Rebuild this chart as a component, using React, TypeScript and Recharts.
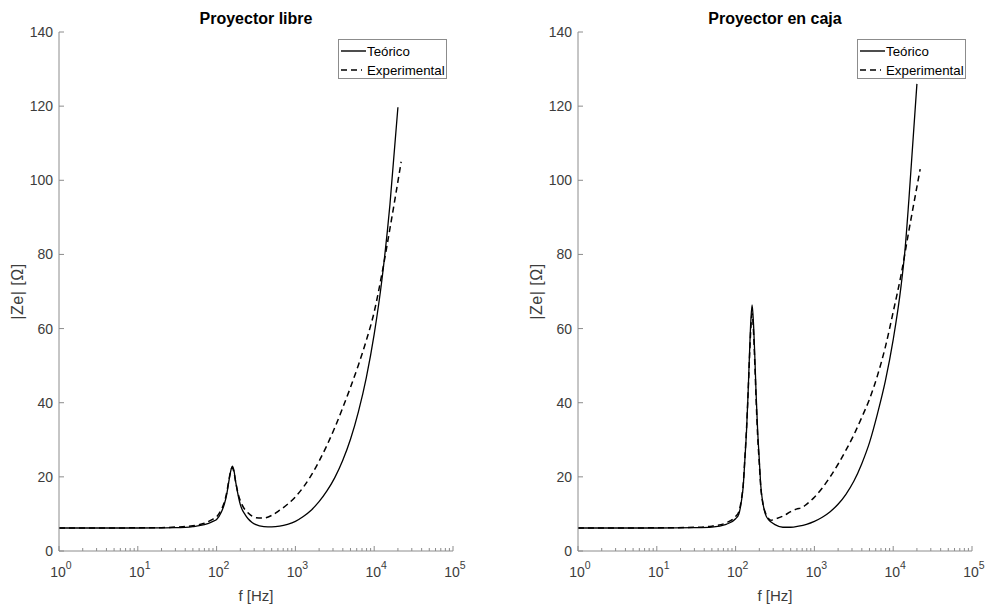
import React from 'react';
import { LineChart, Line, XAxis, YAxis, Legend, Label } from 'recharts';

const FONT = '"Liberation Sans", Arial, Helvetica, sans-serif';
const AXIS_COLOR = '#8c8c8c';
const TEXT_COLOR = '#3c3c3c';

// axis ticks
const majorTicks = [1, 10, 100, 1000, 10000, 100000];
const minorTicks = [
  2, 3, 4, 5, 6, 7, 8, 9,
  20, 30, 40, 50, 60, 70, 80, 90,
  200, 300, 400, 500, 600, 700, 800, 900,
  2000, 3000, 4000, 5000, 6000, 7000, 8000, 9000,
  20000, 30000, 40000, 50000, 60000, 70000, 80000, 90000,
];
const xTicks = [...majorTicks, ...minorTicks].sort((a, b) => a - b);
const yTicks = [0, 20, 40, 60, 80, 100, 120, 140];

// Proyector libre - teórico
const libreTeoF = [1, 3, 10, 20, 30, 50, 70, 90, 100, 115, 126, 135, 145, 152, 158, 165, 175, 190, 200, 230, 251, 282, 316, 398, 501, 631, 794, 1000, 1259, 1585, 1995, 2512, 3162, 3981, 5012, 6310, 7943, 10000, 12589, 15849, 20000];
const libreTeoZ = [6.2, 6.2, 6.2, 6.25, 6.3, 6.6, 7.1, 8.0, 8.5, 10.5, 12.8, 15.5, 19.5, 21.8, 22.9, 22.0, 18.5, 14.5, 12.5, 9.8, 8.7, 7.7, 7.1, 6.6, 6.5, 6.7, 7.2, 8.0, 9.3, 11.0, 13.3, 16.2, 19.8, 24.4, 30.2, 37.6, 46.8, 58.5, 73.5, 93.5, 119.7];

// Proyector libre - experimental
const libreExpF = [1, 10, 20, 30, 50, 70, 90, 100, 115, 126, 135, 145, 152, 158, 165, 175, 190, 210, 250, 282, 316, 398, 501, 631, 794, 1000, 1259, 1585, 1995, 2512, 3162, 3981, 5012, 6310, 7943, 10000, 12589, 15849, 22000];
const libreExpZ = [6.2, 6.25, 6.3, 6.45, 6.8, 7.5, 8.6, 9.2, 11.2, 13.3, 16.0, 19.8, 21.8, 22.5, 21.5, 18.5, 15.0, 12.5, 10.3, 9.4, 9.0, 8.9, 9.6, 11.0, 12.6, 14.6, 17.2, 20.4, 24.2, 28.5, 33.3, 38.6, 44.2, 50.2, 56.8, 64.5, 75.0, 87.0, 105.0];

// Proyector en caja - teórico
const cajaTeoF = [1, 10, 30, 50, 76, 100, 110, 119, 125, 131, 138, 144, 150, 156, 162, 168, 175, 182, 190, 200, 209, 219, 240, 263, 282, 316, 398, 501, 631, 794, 1000, 1259, 1585, 1995, 2512, 3162, 3981, 5012, 6310, 7943, 10000, 12589, 14125, 15849, 20000];
const cajaTeoZ = [6.2, 6.2, 6.3, 6.45, 7.2, 8.7, 10.0, 13.7, 17.5, 24.5, 33.0, 42.5, 53.0, 62.0, 66.4, 62.0, 53.0, 42.5, 33.0, 24.5, 17.5, 13.7, 9.8, 8.4, 7.8, 7.1, 6.4, 6.4, 6.7, 7.2, 8.0, 9.1, 10.6, 12.6, 15.3, 18.8, 23.5, 29.3, 37.0, 45.8, 57.0, 71.5, 81.3, 95.0, 126.0];

// Proyector en caja - experimental
const cajaExpF = [1, 10, 30, 50, 76, 100, 110, 119, 125, 131, 138, 144, 150, 156, 162, 168, 175, 182, 190, 200, 209, 219, 240, 263, 282, 316, 398, 501, 589, 708, 794, 1000, 1259, 1585, 1995, 2512, 3162, 3981, 5012, 6310, 7943, 10000, 12589, 15849, 22000];
const cajaExpZ = [6.2, 6.25, 6.4, 6.7, 7.6, 9.3, 10.6, 14.2, 18.0, 25.0, 33.5, 42.5, 52.0, 60.0, 64.0, 60.0, 51.0, 41.0, 31.5, 23.5, 17.0, 13.5, 10.2, 8.7, 8.3, 8.6, 9.4, 10.6, 11.3, 11.8, 12.6, 14.5, 17.0, 20.0, 23.4, 27.2, 31.3, 36.0, 41.0, 47.3, 55.0, 64.5, 74.5, 86.5, 103.0];

const toPoints = (f: number[], z: number[]) => f.map((v, i) => ({ f: v, z: z[i] }));

const CH = 608;
const PLOT_TOP = 32;
const PLOT_BOTTOM = 551;

function isMajor(v: number) {
  const e = Math.round(Math.log10(v));
  return Math.abs(Math.pow(10, e) - v) < 1e-6;
}

function BottomTick(props: any) {
  const { x, y, payload } = props;
  const v = payload.value;
  const major = isMajor(v);
  return (
    <g>
      <line x1={x} x2={x} y1={y} y2={y - (major ? 5 : 3)} stroke={AXIS_COLOR} />
      {major && (
        <text x={x + 2} y={y + 26} textAnchor="middle" fontSize={14} fill={TEXT_COLOR} fontFamily={FONT}>
          10<tspan dy={-8} fontSize={10.5}>{Math.round(Math.log10(v))}</tspan>
        </text>
      )}
    </g>
  );
}

function TopTick(props: any) {
  const { x, y, payload } = props;
  const major = isMajor(payload.value);
  return <line x1={x} x2={x} y1={y} y2={y + (major ? 5 : 3)} stroke={AXIS_COLOR} />;
}

function LeftTick(props: any) {
  const { x, y, payload } = props;
  return (
    <g>
      <line x1={x} x2={x + 5} y1={y} y2={y} stroke={AXIS_COLOR} />
      <text x={x - 6} y={y} dy={5} textAnchor="end" fontSize={14} fill={TEXT_COLOR} fontFamily={FONT}>
        {payload.value}
      </text>
    </g>
  );
}

function RightTick(props: any) {
  const { x, y } = props;
  return <line x1={x} x2={x - 5} y1={y} y2={y} stroke={AXIS_COLOR} />;
}

function LegendBox() {
  return (
    <div style={{ width: 109, height: 40, boxSizing: 'border-box', border: `1px solid ${AXIS_COLOR}`, background: '#fff' }}>
      <svg width={107} height={38} style={{ display: 'block' }}>
        <line x1={2} x2={27} y1={11} y2={11} stroke="#000" strokeWidth={1.4} />
        <text x={28} y={15.5} fontSize={13.3} fontFamily={FONT} fill="#000">Teórico</text>
        <line x1={2} x2={23} y1={30} y2={30} stroke="#000" strokeWidth={1.4} strokeDasharray="6 4" />
        <text x={28} y={34.5} fontSize={13.3} fontFamily={FONT} fill="#000">Experimental</text>
      </svg>
    </div>
  );
}

function Panel({ title, teo, exp, width, plotLeft, marginRight }: any) {
  const plotRight = width - marginRight;
  const cx = (plotLeft + plotRight) / 2;
  const ylx = plotLeft - 41.5;
  const yly = (PLOT_TOP + PLOT_BOTTOM) / 2;
  return (
    <LineChart width={width} height={CH} margin={{ top: PLOT_TOP, right: marginRight, bottom: 0, left: 0 }}>
      <XAxis
        xAxisId="b"
        type="number"
        dataKey="f"
        scale="log"
        domain={[1, 100000]}
        allowDataOverflow
        ticks={xTicks}
        interval={0}
        tickSize={0}
        tickMargin={0}
        tickLine={false}
        height={CH - PLOT_BOTTOM}
        axisLine={{ stroke: AXIS_COLOR }}
        tick={(p: any) => <BottomTick {...p} />}
      >
        <Label
          content={() => (
            <g>
              <text x={cx} y={601} textAnchor="middle" fontSize={15} fontFamily={FONT} fill={TEXT_COLOR}>
                f [Hz]
              </text>
              <text x={cx} y={24} textAnchor="middle" fontSize={16} fontWeight="bold" fontFamily={FONT} fill="#000">
                {title}
              </text>
            </g>
          )}
        />
      </XAxis>
      <XAxis
        xAxisId="t"
        orientation="top"
        type="number"
        dataKey="f"
        scale="log"
        domain={[1, 100000]}
        allowDataOverflow
        ticks={xTicks}
        interval={0}
        tickSize={0}
        tickMargin={0}
        tickLine={false}
        height={0}
        axisLine={{ stroke: AXIS_COLOR }}
        tick={(p: any) => <TopTick {...p} />}
      />
      <YAxis
        yAxisId="l"
        type="number"
        domain={[0, 140]}
        allowDataOverflow
        ticks={yTicks}
        interval={0}
        tickSize={0}
        tickMargin={0}
        tickLine={false}
        width={plotLeft}
        axisLine={{ stroke: AXIS_COLOR }}
        tick={(p: any) => <LeftTick {...p} />}
      >
        <Label
          content={() => (
            <text
              x={ylx}
              y={yly}
              transform={`rotate(-90, ${ylx}, ${yly})`}
              textAnchor="middle"
              dominantBaseline="central"
              fontSize={16}
              letterSpacing={0.5}
              fontFamily={FONT}
              fill={TEXT_COLOR}
            >
              |Ze| [Ω]
            </text>
          )}
        />
      </YAxis>
      <YAxis
        yAxisId="r"
        orientation="right"
        type="number"
        domain={[0, 140]}
        allowDataOverflow
        ticks={yTicks}
        interval={0}
        tickSize={0}
        tickMargin={0}
        tickLine={false}
        width={0}
        axisLine={{ stroke: AXIS_COLOR }}
        tick={(p: any) => <RightTick {...p} />}
      />
      <Legend
        layout="vertical"
        align="center"
        verticalAlign="middle"
        wrapperStyle={{ left: plotRight - 6 - 109, top: 39, width: 109, height: 40 }}
        content={() => <LegendBox />}
      />
      <Line
        xAxisId="b"
        yAxisId="l"
        data={teo}
        dataKey="z"
        name="Teórico"
        type="monotone"
        stroke="#000"
        strokeWidth={1.3}
        dot={false}
        activeDot={false}
        isAnimationActive={false}
      />
      <Line
        xAxisId="b"
        yAxisId="l"
        data={exp}
        dataKey="z"
        name="Experimental"
        type="monotone"
        stroke="#000"
        strokeWidth={1.5}
        strokeDasharray="6 4"
        dot={false}
        activeDot={false}
        isAnimationActive={false}
      />
    </LineChart>
  );
}

export default function App() {
  return (
    <div style={{ position: 'absolute', left: 0, top: 0, width: 985, height: 608, background: '#fff', display: 'flex' }}>
      <Panel
        title="Proyector libre"
        teo={toPoints(libreTeoF, libreTeoZ)}
        exp={toPoints(libreExpF, libreExpZ)}
        width={490}
        plotLeft={59}
        marginRight={37}
      />
      <Panel
        title="Proyector en caja"
        teo={toPoints(cajaTeoF, cajaTeoZ)}
        exp={toPoints(cajaExpF, cajaExpZ)}
        width={495}
        plotLeft={88}
        marginRight={13}
      />
    </div>
  );
}
